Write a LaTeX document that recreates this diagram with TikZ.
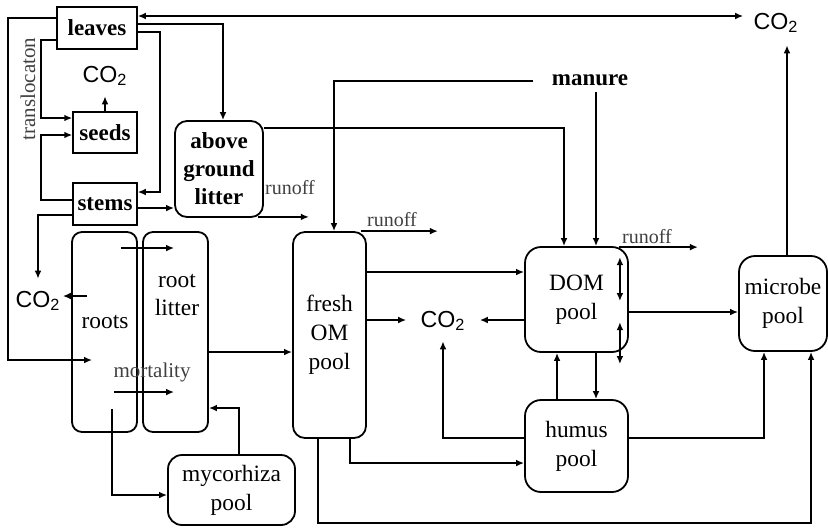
\documentclass[tikz,border=0pt]{standalone}
\usepackage{fontspec}
\setmainfont{Liberation Serif}
\newfontfamily\cosans{Liberation Sans}
\usetikzlibrary{arrows.meta,calc}
\newcommand{\COtwo}{{\cosans CO\textsubscript{2}}}

\begin{document}
\begin{tikzpicture}[x=0.5pt,y=-0.5pt,>={Latex[length=4pt,width=3.4pt]},
  plant/.style={draw,line width=0.75pt,inner sep=0pt,
    font=\fontsize{11.5}{13.5}\selectfont\bfseries},
  pool/.style={draw,line width=0.9pt,rounded corners=6pt,inner sep=0pt,align=center,
    font=\fontsize{11.7}{14.5}\selectfont},
  pooltext/.style={inner sep=0pt,align=center,font=\fontsize{11.7}{14}\selectfont},
  gas/.style={inner sep=1pt,font=\fontsize{11.6}{13}\selectfont},
  arr/.style={->,line width=0.9pt},
  lab/.style={inner sep=0pt,text=black!75,font=\fontsize{10}{12}\selectfont}]

\useasboundingbox (0,0) rectangle (828,527);

% plant parts
\node[plant,minimum width=40pt,minimum height=21pt] (leaves) at (97,28) {leaves};
\node[plant,minimum width=32pt,minimum height=20.5pt] (seeds) at (105,132.5) {seeds};
\node[plant,minimum width=32pt,minimum height=21pt] (stems) at (105,204) {stems};
\node[pool,minimum width=44pt,minimum height=48pt,font=\fontsize{11.5}{14}\selectfont\bfseries]
  (litter) at (219,169) {above\\ground\\litter};
\node[pool,rounded corners=5pt,minimum width=32.5pt,minimum height=100pt] (roots) at (104.5,332) {};
\node[pool,rounded corners=5pt,minimum width=32.5pt,minimum height=100pt] (rootlitter) at (175.5,332) {};
\node[pooltext] at (105,322) {roots};
\node[pooltext] at (177,295) {root\\litter};
\node[lab,font=\fontsize{10.5}{12}\selectfont] at (152,372) {mortality};
\node[pool,rounded corners=7pt,minimum width=63.5pt,minimum height=35pt] (myco) at (231.5,490) {mycorhiza\\pool};
\node[lab,rotate=90,font=\fontsize{10.5}{12}\selectfont] at (28,89) {translocaton};

% soil pools
\node[pool,rounded corners=6pt,minimum width=36.5pt,minimum height=103pt] (fresh) at (329.5,335) {fresh\\OM\\pool};
\node[pool,rounded corners=8pt,minimum width=51.5pt,minimum height=52.5pt] (dom) at (576.5,299.5) {DOM\\pool};
\node[pool,rounded corners=8pt,minimum width=51.5pt,minimum height=46pt] (humus) at (576.5,446) {humus\\pool};
\node[pool,rounded corners=8pt,minimum width=44pt,minimum height=47.5pt] (microbe) at (783,303.5) {microbe\\pool};
\node[plant,draw=none,inner sep=3pt] (manure) at (590,80) {manure};

\node[gas] (co2seeds) at (105,76) {\COtwo};
\node[gas] (co2left) at (38,301) {\COtwo};
\node[gas] (co2mid) at (443,321) {\COtwo};
\node[gas] (co2top) at (776,23) {\COtwo};

\node[lab] at (290,188) {runoff};
\node[lab] at (392,220) {runoff};
\node[lab] at (647,237) {runoff};

% plant fluxes
\draw[arr,<->,shorten >=4pt] (leaves.east |- 0,16) -- (co2top.west |- 0,16);
\draw[arr] (leaves.east |- 0,24) -| ([xshift=2pt]litter.north);
\draw[arr] (leaves.east |- 0,32) -- (160,32) |- (stems.east |- 0,192);
\draw[arr] (leaves.west |- 0,40) -- (41,40) |- (seeds.west |- 0,118);
\draw[arr] (stems.west |- 0,200) -- (41,200) |- (seeds.west |- 0,135);
\draw[arr] (leaves.west |- 0,18) -- (8,18) |- ($(roots.west |- 0,360)+(21,0)$);
\draw[arr,shorten >=4pt] (seeds.north) -- (co2seeds.south);
\draw[arr] (stems.east |- 0,208) -- (litter.west |- 0,208);
\draw[arr,shorten >=5pt] (stems.west |- 0,215) -| (co2left.north);
\draw[arr] ($(roots.west |- 0,296)+(16,0)$) -- (co2left.east |- 0,296);
\draw[arr] ($(roots.east |- 0,248)+(-17,0)$) -- ($(rootlitter.west |- 0,248)+(32,0)$);
\draw[arr] ($(roots.east |- 0,392)+(-24,0)$) -- ($(rootlitter.west |- 0,392)+(32,0)$);
\draw[arr] ($(roots.south)+(7.5,-24)$) |- (myco.west |- 0,495);
\draw[arr] (myco.north -| 239,0) |- (rootlitter.east |- 0,408);
\draw[arr] (rootlitter.east |- 0,352) -- (fresh.west |- 0,352);

% runoff
\draw[arr] ($(litter.south east)+(-6,-1)$) -- ++(51,0);
\draw[arr] ($(fresh.north east)+(-6,0)$) -- ++(77,0);
\draw[arr] ($(dom.north east)+(-10,1)$) -- ++(79,0);

% soil fluxes
\draw[arr] ($(manure.west)+(-12,1)$) -| (fresh.north -| 334,0);
\draw[arr] (manure.south -| 596,0) -- (dom.north -| 596,0);
\draw[arr] (litter.east |- 0,128) -| (dom.north -| 564,0);
\draw[arr] (fresh.east |- 0,272) -- (dom.west |- 0,272);
\draw[arr,shorten >=6pt] (fresh.east |- 0,320) -- (co2mid.west |- 0,320);
\draw[arr,shorten >=6pt] (dom.west |- 0,320) -- (co2mid.east |- 0,320);
\draw[arr,shorten >=4pt] (humus.west |- 0,438) -| (co2mid.south);
\draw[arr] (humus.north -| 557,0) -- (dom.south -| 557,0);
\draw[arr] (dom.south -| 596,0) -- (humus.north -| 596,0);
\draw[arr] (fresh.south -| 350,0) |- (humus.west |- 0,463);
\draw[arr] (fresh.south -| 318,0) -- (318,523) -| (microbe.south -| 811,0);
\draw[arr] (humus.east |- 0,438) -| (microbe.south -| 764,0);
\draw[arr] (dom.east |- 0,312) -- (microbe.west |- 0,312);
\draw[arr,shorten >=5pt] (microbe.north -| 787,0) -- (co2top.south -| 787,0);
\draw[arr,<->] ($(dom.north east)+(-9,11)$) -- ++(0,44);
\draw[arr,<->] ($(dom.north east)+(-9,76)$) -- ++(0,42);
\end{tikzpicture}
\end{document}
